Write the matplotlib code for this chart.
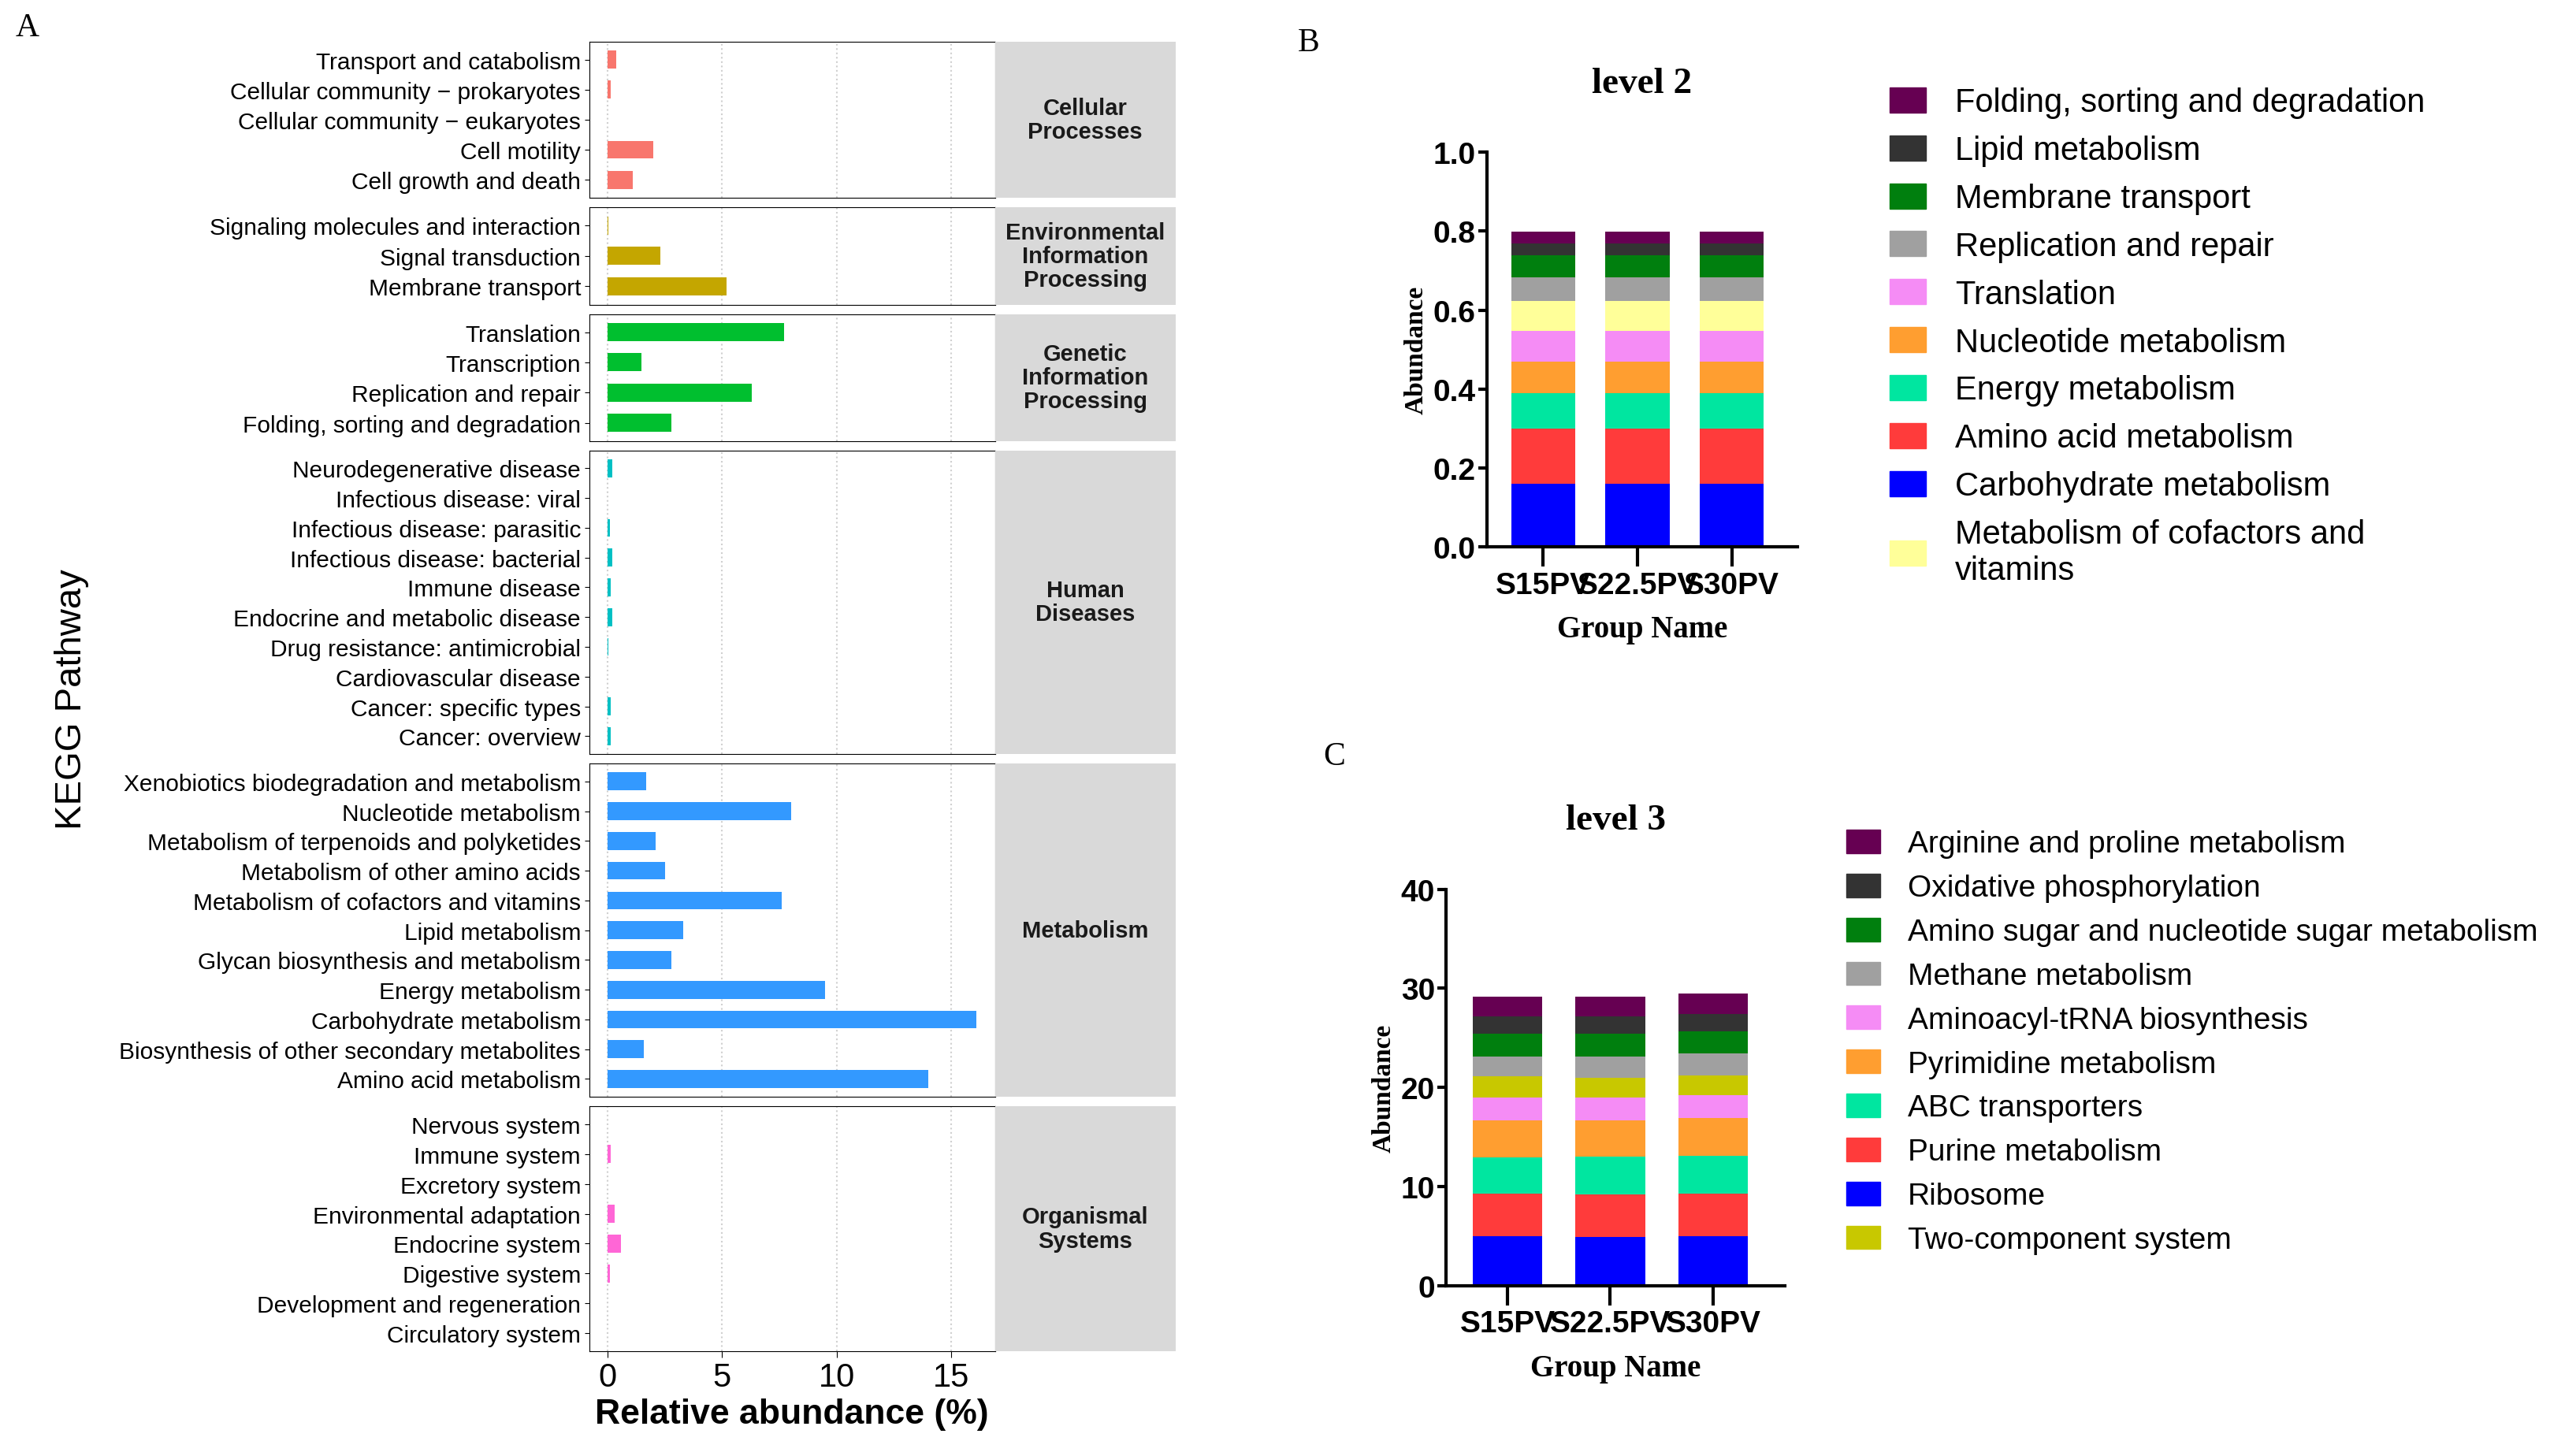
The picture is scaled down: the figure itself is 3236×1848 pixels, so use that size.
import numpy as np
import matplotlib
matplotlib.use('Agg')
import matplotlib.pyplot as plt
import matplotlib.gridspec as gridspec
from matplotlib.patches import Patch

plt.rcParams['font.family'] = ['Liberation Sans', 'DejaVu Sans']
NARROW = ['Liberation Sans Narrow', 'Liberation Sans', 'DejaVu Sans']

# ---- Panel A data ----
group_names = ['Cellular\nProcesses', 'Environmental\nInformation\nProcessing',
               'Genetic\nInformation\nProcessing', 'Human\nDiseases',
               'Metabolism', 'Organismal\nSystems']
group_colors = ['#F8766D', '#C4A600', '#00BF2F', '#00C0C4', '#3399FF', '#FF66D6']

cellular = ['Transport and catabolism', 'Cellular community \u2212 prokaryotes',
            'Cellular community \u2212 eukaryotes', 'Cell motility', 'Cell growth and death']
cellular_vals = [0.4, 0.15, 0.0, 2.0, 1.1]
environ = ['Signaling molecules and interaction', 'Signal transduction', 'Membrane transport']
environ_vals = [0.05, 2.3, 5.2]
genetic = ['Translation', 'Transcription', 'Replication and repair', 'Folding, sorting and degradation']
genetic_vals = [7.7, 1.5, 6.3, 2.8]
human = ['Neurodegenerative disease', 'Infectious disease: viral', 'Infectious disease: parasitic',
         'Infectious disease: bacterial', 'Immune disease', 'Endocrine and metabolic disease',
         'Drug resistance: antimicrobial', 'Cardiovascular disease', 'Cancer: specific types',
         'Cancer: overview']
human_vals = [0.2, 0.02, 0.1, 0.2, 0.15, 0.2, 0.05, 0.02, 0.15, 0.15]
metab = ['Xenobiotics biodegradation and metabolism', 'Nucleotide metabolism',
         'Metabolism of terpenoids and polyketides', 'Metabolism of other amino acids',
         'Metabolism of cofactors and vitamins', 'Lipid metabolism',
         'Glycan biosynthesis and metabolism', 'Energy metabolism', 'Carbohydrate metabolism',
         'Biosynthesis of other secondary metabolites', 'Amino acid metabolism']
metab_vals = [1.7, 8.0, 2.1, 2.5, 7.6, 3.3, 2.8, 9.5, 16.1, 1.6, 14.0]
organ = ['Nervous system', 'Immune system', 'Excretory system', 'Environmental adaptation',
         'Endocrine system', 'Digestive system', 'Development and regeneration',
         'Circulatory system']
organ_vals = [0.02, 0.15, 0.02, 0.3, 0.6, 0.1, 0.02, 0.02]

groups = [(cellular, cellular_vals), (environ, environ_vals), (genetic, genetic_vals),
          (human, human_vals), (metab, metab_vals), (organ, organ_vals)]

# ---- Panel B / C data ----
samples = ['S15PV', 'S22.5PV', 'S30PV']
l2_names = ['Carbohydrate metabolism', 'Amino acid metabolism', 'Energy metabolism',
            'Nucleotide metabolism', 'Translation', 'Metabolism of cofactors and\nvitamins',
            'Replication and repair', 'Membrane transport', 'Lipid metabolism',
            'Folding, sorting and degradation']
l2_vals = [[0.160, 0.160, 0.160], [0.140, 0.140, 0.140], [0.090, 0.090, 0.090],
           [0.080, 0.080, 0.080], [0.078, 0.078, 0.078], [0.075, 0.075, 0.075],
           [0.060, 0.060, 0.060], [0.055, 0.055, 0.055], [0.030, 0.030, 0.030],
           [0.030, 0.030, 0.030]]
l2_colors = ['#0000FF', '#FF3B3B', '#00E6A0', '#FF9E30', '#F58CF5', '#FFFF99',
             '#A0A0A0', '#007F0E', '#333333', '#660052']
l2_legend_order = [9, 8, 7, 6, 4, 3, 2, 1, 0, 5]

l3_names = ['Ribosome', 'Purine metabolism', 'ABC transporters', 'Pyrimidine metabolism',
            'Aminoacyl-tRNA biosynthesis', 'Two-component system', 'Methane metabolism',
            'Amino sugar and nucleotide sugar metabolism', 'Oxidative phosphorylation',
            'Arginine and proline metabolism']
l3_vals = [[5.0, 4.9, 5.0], [4.3, 4.3, 4.3], [3.6, 3.8, 3.8], [3.8, 3.7, 3.8],
           [2.3, 2.3, 2.3], [2.1, 2.0, 2.0], [2.0, 2.1, 2.2], [2.3, 2.3, 2.3],
           [1.8, 1.8, 1.7], [2.0, 2.0, 2.1]]
l3_colors = ['#0000FF', '#FF3B3B', '#00E6A0', '#FF9E30', '#F58CF5', '#C8C800',
             '#A0A0A0', '#007F0E', '#333333', '#660052']
l3_legend_order = [9, 8, 7, 6, 4, 3, 2, 1, 0, 5]

fig = plt.figure(figsize=(32.36, 18.49), dpi=100)

# ---- Panel A ----
counts = [len(g[0]) for g in groups]
gs = gridspec.GridSpec(len(groups), 2, figure=fig, left=0.231, right=0.461, top=0.971,
                       bottom=0.072, height_ratios=[c + 0.3 for c in counts],
                       width_ratios=[2.25, 1], hspace=0.045, wspace=0)
for i, (names, vals) in enumerate(groups):
    ax = fig.add_subplot(gs[i, 0])
    y = np.arange(len(names))
    ax.barh(y, vals, height=0.6, color=group_colors[i], zorder=3)
    ax.set_yticks(y)
    ax.set_yticklabels(names, fontsize=21.5)
    ax.set_ylim(len(names) - 0.4, -0.6)
    ax.set_xlim(-0.8, 16.9)
    ax.set_xticks([0, 5, 10, 15])
    ax.grid(axis='x', color='#D0D0D0', linestyle=':', linewidth=1.5, zorder=0)
    ax.tick_params(axis='y', length=4)
    if i < len(groups) - 1:
        ax.tick_params(axis='x', length=0, labelbottom=False)
    else:
        ax.tick_params(axis='x', labelsize=30, length=6)
        ax.set_xlabel('Relative abundance (%)', fontsize=32, fontweight='bold')
    sax = fig.add_subplot(gs[i, 1])
    sax.set_facecolor('#D9D9D9')
    sax.set_xticks([])
    sax.set_yticks([])
    for s in sax.spines.values():
        s.set_visible(False)
    sax.text(0.5, 0.5, group_names[i], ha='center', va='center', fontsize=21,
             fontweight='bold', color='#1a1a1a', transform=sax.transAxes, linespacing=1.1)
fig.text(0.028, 0.52, 'KEGG Pathway', rotation=90, fontsize=34, ha='center', va='center')


def stacked(ax, vals, colors, names, order, ymax, step, title):
    x = np.arange(len(samples))
    bottom = np.zeros(len(samples))
    handles = []
    for v, c, n in zip(vals, colors, names):
        ax.bar(x, v, bottom=bottom, width=0.68, color=c)
        bottom += np.array(v)
        handles.append(Patch(color=c, label=n))
    ax.set_ylim(0, ymax)
    ax.set_xlim(-0.6, 2.7)
    ax.set_yticks(np.arange(0, ymax + step / 2, step))
    ax.set_xticks(x)
    ax.set_xticklabels(samples)
    for s in ['top', 'right']:
        ax.spines[s].set_visible(False)
    for s in ['left', 'bottom']:
        ax.spines[s].set_linewidth(3)
    ax.tick_params(axis='y', width=3, length=8, labelsize=28, pad=2)
    ax.tick_params(axis='x', width=3, length=18, labelsize=28, pad=4)
    for t in ax.get_xticklabels() + ax.get_yticklabels():
        t.set_fontweight('bold')
        t.set_family(NARROW)
    ax.set_ylabel('Abundance', fontsize=24, fontweight='bold', family='Liberation Serif')
    ax.set_xlabel('Group Name', fontsize=28, fontweight='bold', family='Liberation Serif',
                  labelpad=14)
    ax.set_title(title, fontsize=34, fontweight='bold', family='Liberation Serif', pad=55)
    return [handles[k] for k in order]


axB = fig.add_subplot(position=[0.583, 0.624, 0.122, 0.271])
hb = stacked(axB, l2_vals, l2_colors, l2_names, l2_legend_order, 1.0, 0.2, 'level 2')
axB.set_yticklabels(['0.0', '0.2', '0.4', '0.6', '0.8', '1.0'], fontweight='bold', family=NARROW)
axB.legend(handles=hb, loc='upper left', bbox_to_anchor=(1.2, 1.24), frameon=False,
           fontsize=30, handlelength=1.1, handleheight=0.8, labelspacing=0.5,
           handletextpad=0.9)

axC = fig.add_subplot(position=[0.567, 0.117, 0.133, 0.272])
hc = stacked(axC, l3_vals, l3_colors, l3_names, l3_legend_order, 40, 10, 'level 3')
axC.legend(handles=hc, loc='upper left', bbox_to_anchor=(1.1, 1.22), frameon=False,
           fontsize=28, handlelength=1.1, handleheight=0.8, labelspacing=0.5,
           handletextpad=0.9)

fig.text(0.006, 0.975, 'A', fontsize=30, family='Liberation Serif')
fig.text(0.509, 0.965, 'B', fontsize=30, family='Liberation Serif')
fig.text(0.519, 0.475, 'C', fontsize=30, family='Liberation Serif')

fig.savefig('out.png', dpi=100)
